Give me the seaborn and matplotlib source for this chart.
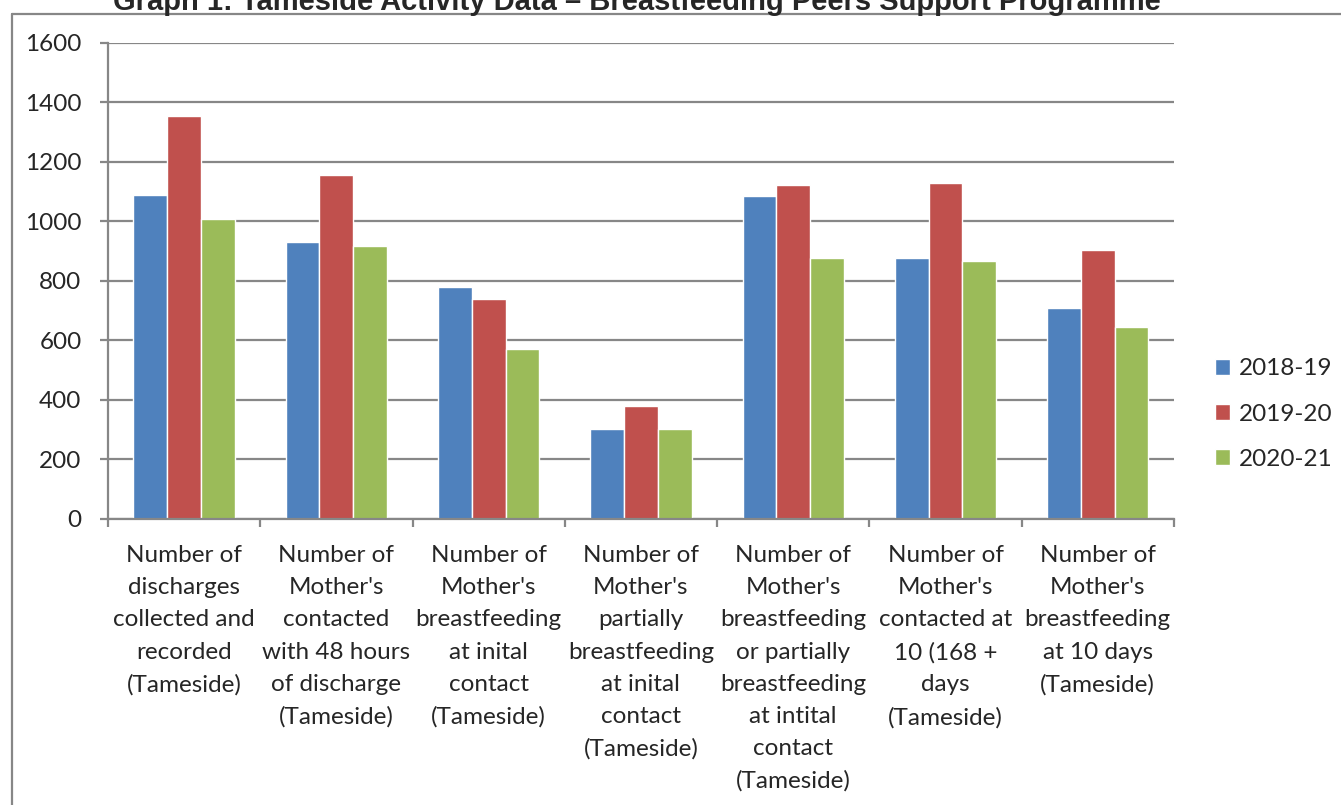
import numpy as np
import pandas as pd
import matplotlib
matplotlib.use("Agg")
import matplotlib.pyplot as plt
from matplotlib.lines import Line2D
import seaborn as sns

# data
categories = [
    "Number of\ndischarges\ncollected and\nrecorded\n(Tameside)",
    "Number of\nMother's\ncontacted\nwith 48 hours\nof discharge\n(Tameside)",
    "Number of\nMother's\nbreastfeeding\nat inital\ncontact\n(Tameside)",
    "Number of\nMother's\npartially\nbreastfeeding\nat inital\ncontact\n(Tameside)",
    "Number of\nMother's\nbreastfeeding\nor partially\nbreastfeeding\nat intital\ncontact\n(Tameside)",
    "Number of\nMother's\ncontacted at\n10 (168 +\ndays\n(Tameside)",
    "Number of\nMother's\nbreastfeeding\nat 10 days\n(Tameside)",
]
years = ["2018-19", "2019-20", "2020-21"]
values_1819 = [1090, 931, 781, 301, 1085, 877, 708]
values_1920 = [1353, 1155, 741, 379, 1121, 1130, 905]
values_2021 = [1008, 916, 572, 302, 876, 868, 646]
colors = ["#4F81BD", "#C0504D", "#9BBB59"]

df = pd.DataFrame({
    "category": categories * 3,
    "year": [years[0]] * 7 + [years[1]] * 7 + [years[2]] * 7,
    "value": values_1819 + values_1920 + values_2021,
})

sns.set_style("white")
plt.rcParams["font.family"] = ["Lato", "DejaVu Sans"]

fig = plt.figure(figsize=(13.41, 8.05), dpi=100)
ax = fig.add_axes([0.0805, 0.3553, 0.7949, 0.5913])

sns.barplot(data=df, x="category", y="value", hue="year", palette=colors,
            width=0.665, saturation=1, ax=ax, order=categories, hue_order=years)

grey = "#878787"
ax.set_ylim(0, 1600)
ax.set_xlim(-0.5, 6.5)
ax.set_yticks(np.arange(0, 1601, 200))
ax.yaxis.grid(True, color=grey, linewidth=1.6)
ax.set_axisbelow(True)
for side in ["top", "right"]:
    ax.spines[side].set_visible(False)
for side in ["left", "bottom"]:
    ax.spines[side].set_color(grey)
    ax.spines[side].set_linewidth(1.6)

ax.set_xlabel("")
ax.set_ylabel("")
ax.tick_params(axis="y", length=6, width=1.6, color=grey, pad=13, labelsize=17.5, left=True)
ax.set_xticks(np.arange(-0.5, 7, 1), minor=True)
ax.tick_params(axis="x", which="minor", length=6, width=1.6, color=grey, bottom=True)
ax.tick_params(axis="x", which="major", length=0, pad=19, labelsize=17.5)
for lbl in ax.get_xticklabels():
    lbl.set_linespacing(1.65)

ax.legend(loc="center left", bbox_to_anchor=(0.906, 0.4857),
          bbox_transform=fig.transFigure, frameon=False, fontsize=17.5,
          handlelength=0.63, handleheight=0.63, handletextpad=0.35,
          labelspacing=1.0, borderpad=0, borderaxespad=0)

# outer chart frame (extends past the image at right and bottom)
fig.add_artist(Line2D([12 / 1341, 1.01], [1 - 14 / 805] * 2, color=grey, linewidth=1.6,
                      transform=fig.transFigure))
fig.add_artist(Line2D([12 / 1341] * 2, [-0.01, 1 - 14 / 805], color=grey, linewidth=1.6,
                      transform=fig.transFigure))

# title sits partly above the top edge, as in the reference
fig.text(637 / 1341, 1 - 9.5 / 805,
         "Graph 1: Tameside Activity Data \u2013 Breastfeeding Peers Support Programme",
         ha="center", va="baseline", fontsize=21, fontweight="bold",
         family=["Liberation Sans", "DejaVu Sans"])

fig.savefig("out.png", dpi=100)
